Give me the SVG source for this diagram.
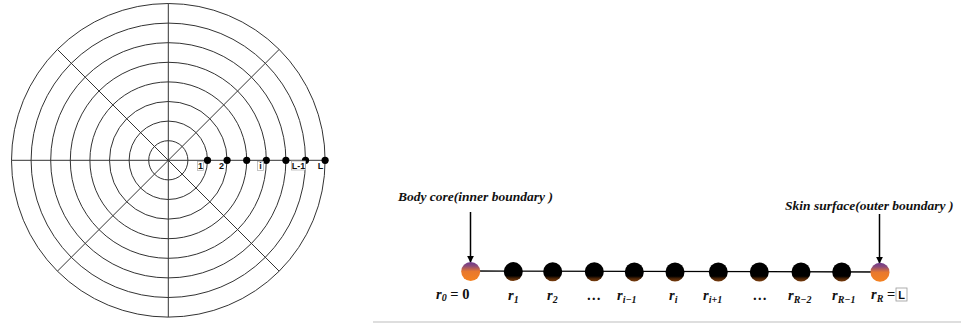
<svg xmlns="http://www.w3.org/2000/svg" width="961" height="323" viewBox="0 0 961 323">
<defs>
<linearGradient id="gBlack" x1="0" y1="0" x2="0" y2="1">
<stop offset="0" stop-color="#000"/>
<stop offset="0.72" stop-color="#000"/>
<stop offset="0.85" stop-color="#4a2306"/>
<stop offset="1" stop-color="#7a3d0c"/>
</linearGradient>
<linearGradient id="gOrange" x1="0" y1="0" x2="0" y2="1">
<stop offset="0" stop-color="#6e3a8c"/>
<stop offset="0.2" stop-color="#8a4a7a"/>
<stop offset="0.5" stop-color="#e8782e"/>
<stop offset="1" stop-color="#f58220"/>
</linearGradient>
<marker id="arr" viewBox="0 0 10 10" refX="9" refY="5" markerWidth="7" markerHeight="7" markerUnits="userSpaceOnUse" orient="auto">
<path d="M0,0 L10,5 L0,10 z" fill="#000"/>
</marker>
</defs>
<style>
.ring{fill:none;stroke:#333;stroke-width:1}
.spoke{stroke:#333;stroke-width:1}
.dot{fill:#000}
.lbl{font-family:"Liberation Sans",Arial,sans-serif;font-weight:bold;font-size:9px;fill:#111}
.box{fill:#fff;stroke:#aaa;stroke-width:0.7}
.math{font-family:"Liberation Serif","DejaVu Serif",serif;font-style:italic;font-weight:bold;font-size:14.5px;fill:#111}
.sub{font-size:10px}
.cap{font-family:"Liberation Serif","DejaVu Serif",serif;font-style:italic;font-weight:bold;font-size:13.5px;fill:#111}
.bnode{fill:url(#gBlack)}
.onode{fill:url(#gOrange)}
</style>
<g id="polar-grid">
<circle class="ring" cx="168.3" cy="160.3" r="19.6"/>
<circle class="ring" cx="168.3" cy="160.3" r="39.2"/>
<circle class="ring" cx="168.3" cy="160.3" r="58.8"/>
<circle class="ring" cx="168.3" cy="160.3" r="78.4"/>
<circle class="ring" cx="168.3" cy="160.3" r="98"/>
<circle class="ring" cx="168.3" cy="160.3" r="117.6"/>
<circle class="ring" cx="168.3" cy="160.3" r="137.2"/>
<circle class="ring" cx="168.3" cy="160.3" r="156.8"/>
<line class="spoke" x1="11.5" y1="160.3" x2="325.1" y2="160.3"/>
<line class="spoke" x1="168.3" y1="3.5" x2="168.3" y2="317.1"/>
<line class="spoke" x1="57.4" y1="49.4" x2="279.2" y2="271.2"/>
<line class="spoke" x1="57.4" y1="271.2" x2="279.2" y2="49.4"/>
</g>
<g id="polar-points">
<circle class="dot" cx="207.5" cy="160.3" r="3.6"/>
<circle class="dot" cx="227.1" cy="160.3" r="3.6"/>
<circle class="dot" cx="246.7" cy="160.3" r="3.6"/>
<circle class="dot" cx="266.3" cy="160.3" r="3.6"/>
<circle class="dot" cx="285.9" cy="160.3" r="3.6"/>
<circle class="dot" cx="305.5" cy="160.3" r="3.6"/>
<circle class="dot" cx="325.1" cy="160.3" r="3.6"/>
</g>
<g id="polar-labels">
<rect class="box" x="197.5" y="161.5" width="6" height="9"/>
<text class="lbl" x="200.5" y="169" text-anchor="middle">1</text>
<text class="lbl" x="221.5" y="169" text-anchor="middle">2</text>
<rect class="box" x="257.5" y="161.5" width="6" height="9"/>
<text class="lbl" x="260.5" y="169" text-anchor="middle">i</text>
<rect class="box" x="291.5" y="161" width="14" height="9"/>
<text class="lbl" x="298.5" y="168.5" text-anchor="middle">L-1</text>
<text class="lbl" x="320.5" y="169" text-anchor="middle">L</text>
</g>
<g id="connectors">
<line x1="470.5" y1="271" x2="880" y2="272" stroke="#000" stroke-width="1.3"/>
<line x1="470.5" y1="212" x2="470.5" y2="262" stroke="#000" stroke-width="1.5" marker-end="url(#arr)"/>
<line x1="879.5" y1="214" x2="879.5" y2="263" stroke="#000" stroke-width="1.5" marker-end="url(#arr)"/>
</g>
<g id="node-r0"><circle class="onode" cx="470.7" cy="271.5" r="9.5"/></g>
<g id="node-r1"><circle class="bnode" cx="513.3" cy="271.6" r="9.5"/></g>
<g id="node-r2"><circle class="bnode" cx="552.7" cy="271.7" r="9.5"/></g>
<g id="node-dots1"><circle class="bnode" cx="594.3" cy="271.8" r="9.5"/></g>
<g id="node-ri-1"><circle class="bnode" cx="634.3" cy="271.9" r="9.5"/></g>
<g id="node-ri"><circle class="bnode" cx="675" cy="272" r="9.5"/></g>
<g id="node-ri+1"><circle class="bnode" cx="718.3" cy="272" r="9.5"/></g>
<g id="node-dots2"><circle class="bnode" cx="759.3" cy="272" r="9.5"/></g>
<g id="node-rR-2"><circle class="bnode" cx="801" cy="272" r="9.5"/></g>
<g id="node-rR-1"><circle class="bnode" cx="841.7" cy="272" r="9.5"/></g>
<g id="node-rR"><circle class="onode" cx="880" cy="272.3" r="9.5"/></g>
<g id="captions">
<text class="cap" x="398" y="201">Body core(inner boundary )</text>
<text class="cap" x="785" y="210">Skin surface(outer boundary )</text>
</g>
<g id="radius-labels">
<text class="math" x="436" y="299">r<tspan class="sub" dy="2">0</tspan><tspan dy="-2" font-style="normal"> = 0</tspan></text>
<text class="math" x="508" y="300">r<tspan class="sub" dy="3">1</tspan></text>
<text class="math" x="547" y="300">r<tspan class="sub" dy="3">2</tspan></text>
<text class="math" x="587" y="300" font-style="normal">…</text>
<text class="math" x="617" y="300">r<tspan class="sub" dy="3">i−1</tspan></text>
<text class="math" x="669" y="300">r<tspan class="sub" dy="3">i</tspan></text>
<text class="math" x="703" y="300">r<tspan class="sub" dy="3">i+1</tspan></text>
<text class="math" x="753" y="300" font-style="normal">…</text>
<text class="math" x="788" y="300">r<tspan class="sub" dy="3">R−2</tspan></text>
<text class="math" x="832" y="300">r<tspan class="sub" dy="3">R−1</tspan></text>
<text class="math" x="871" y="299">r<tspan class="sub" dy="3">R</tspan><tspan dy="-3" font-style="normal"> =</tspan></text>
<rect x="896" y="288" width="11" height="13" fill="#fff" stroke="#999" stroke-width="0.8"/>
<text x="901.5" y="299" text-anchor="middle" font-family="Liberation Sans, Arial, sans-serif" font-size="11" font-weight="bold" fill="#111">L</text>
</g>
<line x1="373" y1="322" x2="961" y2="322" stroke="#d3d3d3" stroke-width="1.5"/>
</svg>
